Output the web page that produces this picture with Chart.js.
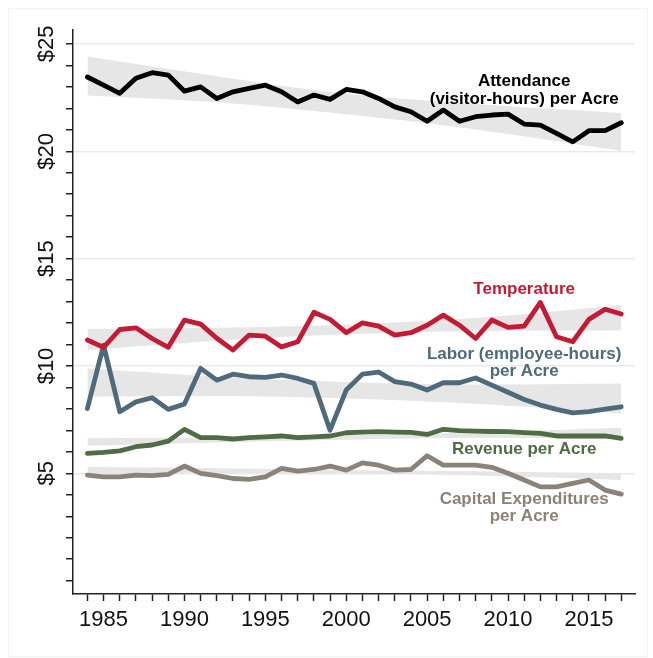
<!DOCTYPE html>
<html>
<head>
<meta charset="utf-8">
<script src="https://cdn.jsdelivr.net/npm/chart.js@4.4.1/dist/chart.umd.min.js"></script>
<style>
  html, body { margin: 0; padding: 0; background: #fff; }
  #wrap { position: relative; width: 653px; height: 658px; }
  #frame { position: absolute; left: 8px; top: 8px; width: 638px; height: 647px; border: 1px solid #f0f3f3; }
  canvas { position: absolute; left: 0; top: 0; }
</style>
</head>
<body>
<div id="wrap">
  <div id="frame"></div>
  <canvas id="chart" width="653" height="658"></canvas>
</div>
<script>
// yearly values
const years = [1984, 1985, 1986, 1987, 1988, 1989, 1990, 1991, 1992, 1993, 1994,
  1995, 1996, 1997, 1998, 1999, 2000, 2001, 2002, 2003, 2004, 2005,
  2006, 2007, 2008, 2009, 2010, 2011, 2012, 2013, 2014, 2015, 2016, 2017];

const attendance = [23.46, 23.08, 22.70, 23.40, 23.66, 23.55, 22.80, 23.00, 22.46, 22.77, 22.93,
  23.08, 22.77, 22.30, 22.62, 22.42, 22.88, 22.77, 22.46, 22.07, 21.84, 21.40,
  21.92, 21.40, 21.61, 21.69, 21.73, 21.27, 21.22, 20.83, 20.44, 20.96, 20.96, 21.33];
const temperature = [11.21, 10.87, 11.70, 11.78, 11.28, 10.87, 12.14, 11.95, 11.29, 10.74, 11.44,
  11.39, 10.89, 11.13, 12.50, 12.17, 11.55, 12.01, 11.86, 11.44, 11.55, 11.90,
  12.37, 11.90, 11.28, 12.14, 11.80, 11.86, 12.96, 11.36, 11.13, 12.17, 12.64, 12.42];
const labor = [8.02, 10.97, 7.87, 8.33, 8.52, 7.98, 8.23, 9.89, 9.34, 9.62, 9.50,
  9.47, 9.58, 9.42, 9.19, 7.01, 8.88, 9.62, 9.72, 9.27, 9.16, 8.88,
  9.22, 9.22, 9.44, 9.11, 8.78, 8.44, 8.18, 7.98, 7.82, 7.87, 7.99, 8.10];
const revenue = [5.93, 5.98, 6.05, 6.24, 6.32, 6.50, 7.05, 6.66, 6.66, 6.60, 6.66,
  6.70, 6.74, 6.66, 6.70, 6.74, 6.89, 6.92, 6.94, 6.92, 6.91, 6.81,
  7.05, 6.99, 6.97, 6.95, 6.94, 6.90, 6.86, 6.74, 6.74, 6.74, 6.74, 6.63];
const capital = [4.92, 4.84, 4.84, 4.92, 4.89, 4.95, 5.34, 5.00, 4.89, 4.76, 4.72,
  4.84, 5.23, 5.10, 5.18, 5.34, 5.15, 5.49, 5.38, 5.15, 5.18, 5.82,
  5.38, 5.38, 5.38, 5.28, 5.00, 4.69, 4.37, 4.37, 4.53, 4.69, 4.22, 4.03];

// grey trend bands (lower / upper edge)
const bandYears = [1984, 1992, 2000, 2008, 2017];
const attendanceLow = [22.60, 22.28, 21.72, 21.02, 20.02];
const attendanceHigh = [24.41, 23.50, 22.68, 22.20, 21.78];
const temperatureLow = [10.74, 11.18, 11.48, 11.63, 11.67];
const temperatureHigh = [11.72, 11.78, 11.92, 12.23, 12.84];
const laborLow = [8.57, 8.60, 8.49, 8.24, 7.79];
const laborHigh = [9.89, 9.50, 9.25, 9.14, 9.19];
const revenueLow = [6.28, 6.44, 6.57, 6.66, 6.60];
const revenueHigh = [6.63, 6.68, 6.77, 6.90, 7.12];
const capitalLow = [5.00, 5.02, 5.00, 4.90, 4.69];
const capitalHigh = [5.30, 5.24, 5.16, 5.10, 5.00];

const yTickValues = [5, 10, 15, 20, 25];
const yTickLabels = ['$5', '$10', '$15', '$20', '$25'];
const xLabelYears = [1985, 1990, 1995, 2000, 2005, 2010, 2015];

const FONT = "'Liberation Sans', Arial, Helvetica, sans-serif";
const BAND = '#e6e6e6';

const series = [
  { name: 'attendance', values: attendance, low: attendanceLow, high: attendanceHigh, color: '#000000' },
  { name: 'temperature', values: temperature, low: temperatureLow, high: temperatureHigh, color: '#c41b35' },
  { name: 'labor', values: labor, low: laborLow, high: laborHigh, color: '#4e6a7b' },
  { name: 'revenue', values: revenue, low: revenueLow, high: revenueHigh, color: '#4f6c45' },
  { name: 'capital', values: capital, low: capitalLow, high: capitalHigh, color: '#8a8379' }
];

// text labels next to the lines (data coordinates)
const notes = [
  { lines: ['Attendance', '(visitor-hours) per Acre'], x: 2011, y: [23.24, 22.42], color: '#000000' },
  { lines: ['Temperature'], x: 2011, y: [13.57], color: '#c41b35' },
  { lines: ['Labor (employee-hours)', 'per Acre'], x: 2011, y: [10.55, 9.73], color: '#4e6a7b' },
  { lines: ['Revenue per Acre'], x: 2011, y: [6.13], color: '#4f6c45' },
  { lines: ['Capital Expenditures', 'per Acre'], x: 2011, y: [3.79, 3.01], color: '#8a8379' }
];

const datasets = [];
series.forEach(s => {
  datasets.push({
    label: s.name + ' low',
    data: bandYears.map((yr, i) => ({ x: yr, y: s.low[i] })),
    borderWidth: 0, pointRadius: 0, fill: false,
    cubicInterpolationMode: 'monotone', order: 10
  });
  datasets.push({
    label: s.name + ' high',
    data: bandYears.map((yr, i) => ({ x: yr, y: s.high[i] })),
    borderWidth: 0, pointRadius: 0, fill: '-1', backgroundColor: BAND,
    cubicInterpolationMode: 'monotone', order: 10
  });
});
series.forEach(s => {
  datasets.push({
    label: s.name,
    data: years.map((yr, i) => ({ x: yr, y: s.values[i] })),
    borderColor: s.color, borderWidth: 4.8, pointRadius: 0,
    borderJoinStyle: 'round', borderCapStyle: 'round',
    fill: false, tension: 0, order: 1
  });
});

const textPlugin = {
  id: 'textPlugin',
  afterDraw(chart) {
    const ctx = chart.ctx;
    const xs = chart.scales.x, ys = chart.scales.y;
    ctx.save();
    // rotated y tick labels
    ctx.font = '22px ' + FONT;
    ctx.fillStyle = '#111';
    ctx.textAlign = 'center';
    ctx.textBaseline = 'middle';
    yTickValues.forEach((v, i) => {
      ctx.save();
      ctx.translate(xs.left - 26, ys.getPixelForValue(v));
      ctx.rotate(-Math.PI / 2);
      ctx.fillText(yTickLabels[i], 0, 0);
      ctx.restore();
    });
    // series notes
    ctx.font = 'bold 17px ' + FONT;
    notes.forEach(n => {
      ctx.fillStyle = n.color;
      n.lines.forEach((t, i) => {
        ctx.fillText(t, xs.getPixelForValue(n.x), ys.getPixelForValue(n.y[i]));
      });
    });
    ctx.restore();
  }
};

new Chart(document.getElementById('chart'), {
  type: 'line',
  data: { datasets },
  plugins: [textPlugin],
  options: {
    responsive: false,
    animation: false,
    events: [],
    layout: { padding: { top: 30, right: 18, left: 0, bottom: 0 } },
    plugins: { legend: { display: false }, tooltip: { enabled: false } },
    scales: {
      x: {
        type: 'linear',
        min: 1983.11,
        max: 2017.85,
        afterBuildTicks: scale => { scale.ticks = years.map(v => ({ value: v })); },
        afterFit: scale => { scale.height = 64; },
        border: { display: true, color: '#222', width: 1.5 },
        grid: { drawOnChartArea: false, drawTicks: true, tickLength: 7, tickColor: '#222', tickWidth: 1.5 },
        ticks: {
          autoSkip: false, maxRotation: 0, padding: 6,
          color: '#111', font: { family: FONT, size: 22 },
          callback: v => xLabelYears.includes(v) ? String(v) : ''
        }
      },
      y: {
        min: -0.62,
        max: 25.65,
        afterBuildTicks: scale => {
          const t = [];
          for (let v = 0; v <= 25; v++) t.push({ value: v });
          scale.ticks = t;
        },
        afterFit: scale => { scale.width = 73; },
        border: { display: true, color: '#222', width: 1.5 },
        grid: {
          drawTicks: true, tickLength: 7, tickColor: '#222', tickWidth: 1.5,
          lineWidth: 1.5,
          color: c => (c.tick && c.tick.value % 5 === 0 && c.tick.value > 0) ? '#e9e9e9' : 'rgba(0,0,0,0)'
        },
        ticks: { callback: () => '', padding: 0 }
      }
    }
  }
});
</script>
</body>
</html>
